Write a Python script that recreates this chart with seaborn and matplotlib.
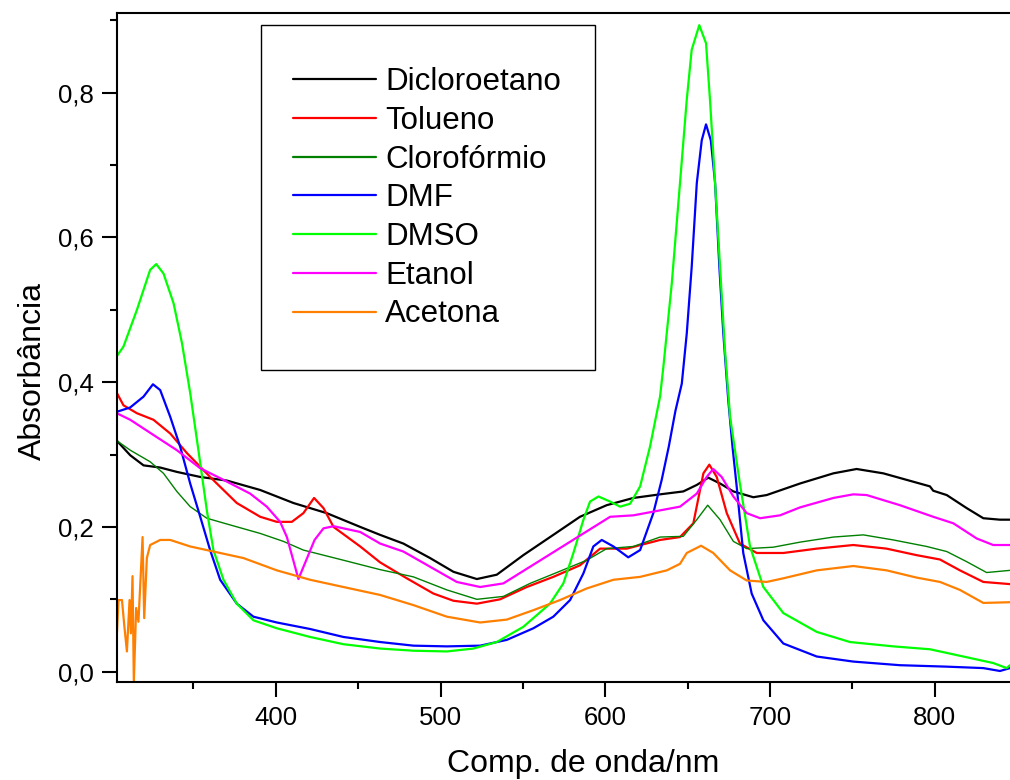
import numpy as np
import pandas as pd
import matplotlib
matplotlib.use("Agg")
import matplotlib.pyplot as plt
import seaborn as sns
from matplotlib.ticker import FixedLocator, MultipleLocator
from matplotlib.patches import Rectangle

# ---------------- data ----------------
dicloro_x = [303.5, 311.6, 319.7, 329.8, 339.9, 354.1, 370.3, 390.5, 410.7, 430.9, 451.2, 463.3, 477.4,
             493.6, 507.8, 522.0, 534.1, 550.2, 568.4, 584.6, 600.8, 617.0, 633.2, 647.3, 655.5, 662.5,
             669.6, 677.7, 689.8, 697.9, 718.2, 738.4, 752.5, 768.7, 797.0, 799.0, 807.2, 819.3, 829.4,
             839.5, 845.6]
dicloro_y = [0.319, 0.299, 0.285, 0.282, 0.276, 0.269, 0.264, 0.251, 0.233, 0.219, 0.200, 0.189, 0.177,
             0.157, 0.138, 0.128, 0.134, 0.161, 0.189, 0.214, 0.230, 0.240, 0.245, 0.249, 0.258, 0.268,
             0.260, 0.249, 0.241, 0.244, 0.260, 0.274, 0.280, 0.274, 0.256, 0.250, 0.244, 0.226, 0.212,
             0.210, 0.210]

tolueno_x = [303.5, 307.5, 315.7, 325.7, 335.9, 346.0, 360.1, 376.3, 390.5, 400.6, 409.7, 416.7, 423.2,
             428.9, 435.0, 451.2, 463.3, 479.5, 495.6, 507.8, 522.0, 536.1, 552.3, 568.4, 584.6, 596.8,
             613.0, 633.2, 645.3, 653.4, 659.5, 663.1, 667.6, 673.7, 681.7, 691.9, 708.0, 728.3, 750.5,
             770.7, 788.9, 803.1, 815.2, 829.4, 845.6]
tolueno_y = [0.385, 0.368, 0.357, 0.348, 0.329, 0.302, 0.269, 0.233, 0.214, 0.207, 0.207, 0.219, 0.240,
             0.226, 0.200, 0.173, 0.151, 0.129, 0.108, 0.098, 0.094, 0.100, 0.117, 0.131, 0.147, 0.170,
             0.170, 0.182, 0.186, 0.205, 0.274, 0.286, 0.269, 0.219, 0.177, 0.164, 0.164, 0.170, 0.175,
             0.170, 0.161, 0.155, 0.140, 0.124, 0.121]

cloro_x = [303.5, 311.6, 323.7, 331.8, 339.9, 348.0, 358.1, 370.3, 390.5, 404.6, 416.7, 441.0, 463.3,
           483.5, 503.8, 522.0, 538.1, 554.3, 570.5, 588.7, 600.8, 617.0, 633.2, 647.3, 655.5, 662.1,
           669.6, 677.7, 685.8, 701.9, 718.2, 738.4, 756.6, 774.8, 795.0, 807.2, 819.3, 831.4, 845.6]
cloro_y = [0.319, 0.306, 0.290, 0.274, 0.249, 0.228, 0.212, 0.204, 0.191, 0.180, 0.168, 0.154, 0.141,
           0.131, 0.113, 0.100, 0.104, 0.122, 0.137, 0.154, 0.170, 0.173, 0.186, 0.187, 0.210, 0.230,
           0.210, 0.180, 0.170, 0.172, 0.179, 0.186, 0.189, 0.182, 0.173, 0.166, 0.152, 0.137, 0.140]

dmf_x = [303.5, 311.6, 319.7, 325.4, 329.8, 335.9, 341.9, 348.0, 354.1, 360.1, 366.2, 376.3, 386.4,
         400.6, 420.8, 441.0, 463.3, 483.5, 503.8, 524.0, 540.2, 556.3, 568.4, 578.6, 586.7, 592.7,
         597.8, 604.9, 613.9, 621.1, 629.1, 634.2, 638.5, 642.5, 646.4, 649.4, 652.4, 655.5, 658.5,
         661.1, 664.0, 666.6, 669.2, 671.6, 674.6, 677.2, 679.7, 683.7, 688.8, 695.9, 708.0, 728.3,
         750.5, 778.8, 807.2, 829.4, 839.5, 845.6]
dmf_y = [0.359, 0.365, 0.380, 0.397, 0.389, 0.352, 0.311, 0.260, 0.214, 0.168, 0.127, 0.094, 0.076,
         0.068, 0.059, 0.048, 0.041, 0.036, 0.035, 0.036, 0.044, 0.060, 0.076, 0.099, 0.136, 0.173,
         0.182, 0.173, 0.158, 0.168, 0.219, 0.265, 0.311, 0.360, 0.398, 0.467, 0.559, 0.675, 0.734,
         0.756, 0.734, 0.675, 0.559, 0.467, 0.375, 0.310, 0.256, 0.164, 0.108, 0.071, 0.039, 0.021,
         0.014, 0.009, 0.007, 0.005, 0.001, 0.005]

dmso_x = [303.5, 307.5, 315.7, 323.7, 327.4, 331.8, 337.9, 343.0, 348.0, 353.0, 358.1, 362.1, 368.2,
          376.3, 386.4, 400.6, 420.8, 441.0, 463.3, 483.5, 503.8, 519.9, 534.1, 550.2, 566.4, 574.5,
          580.6, 586.7, 590.7, 595.8, 602.9, 608.9, 615.0, 621.1, 627.1, 633.2, 635.2, 640.3, 645.3,
          649.4, 652.4, 657.0, 661.1, 663.5, 666.6, 669.6, 672.6, 675.7, 681.5, 687.8, 695.9, 708.0,
          728.3, 748.5, 774.8, 797.0, 809.2, 823.3, 835.4, 843.6, 845.6]
dmso_y = [0.436, 0.449, 0.500, 0.555, 0.563, 0.550, 0.509, 0.454, 0.385, 0.306, 0.223, 0.168, 0.127,
          0.094, 0.071, 0.060, 0.048, 0.038, 0.032, 0.029, 0.028, 0.032, 0.041, 0.062, 0.094, 0.122,
          0.164, 0.210, 0.235, 0.242, 0.235, 0.228, 0.232, 0.256, 0.311, 0.380, 0.421, 0.536, 0.675,
          0.790, 0.859, 0.893, 0.868, 0.790, 0.675, 0.559, 0.444, 0.352, 0.262, 0.173, 0.117, 0.081,
          0.055, 0.041, 0.035, 0.031, 0.025, 0.018, 0.012, 0.005, 0.009]

etanol_x = [303.5, 311.6, 325.7, 339.9, 354.1, 368.2, 384.4, 394.5, 402.6, 406.7, 413.7, 423.5, 428.9,
            435.0, 451.2, 463.3, 477.4, 493.6, 509.8, 524.0, 538.1, 554.3, 570.5, 586.7, 602.9, 617.0,
            631.2, 645.3, 655.5, 661.5, 665.5, 670.6, 677.7, 685.8, 693.9, 706.0, 718.2, 738.4, 750.5,
            758.6, 778.8, 799.0, 811.2, 825.4, 835.4, 845.6]
etanol_y = [0.357, 0.348, 0.327, 0.306, 0.281, 0.265, 0.246, 0.228, 0.207, 0.186, 0.128, 0.182, 0.198,
            0.201, 0.193, 0.177, 0.166, 0.145, 0.124, 0.117, 0.122, 0.145, 0.168, 0.191, 0.214, 0.216,
            0.222, 0.228, 0.246, 0.269, 0.280, 0.269, 0.242, 0.219, 0.212, 0.216, 0.227, 0.240, 0.245,
            0.244, 0.230, 0.214, 0.205, 0.184, 0.175, 0.175]

acetona_x = [303.5, 304.5, 306.6, 308.0, 309.6, 311.2, 312.0, 313.0, 313.8, 315.2, 316.6, 319.1, 320.1,
             321.7, 323.7, 329.8, 335.9, 348.0, 360.1, 380.3, 400.6, 420.8, 441.0, 463.3, 483.5, 503.8,
             524.0, 540.2, 556.3, 572.5, 588.7, 604.9, 621.1, 637.3, 645.3, 649.4, 658.1, 665.5, 675.7,
             685.8, 697.9, 708.0, 728.3, 750.5, 770.7, 788.9, 803.1, 815.2, 829.4, 845.6]
acetona_y = [0.051, 0.099, 0.099, 0.064, 0.028, 0.099, 0.053, 0.132, -0.014, 0.088, 0.069, 0.186, 0.074,
             0.157, 0.175, 0.182, 0.182, 0.173, 0.167, 0.157, 0.140, 0.127, 0.117, 0.106, 0.092, 0.076,
             0.068, 0.072, 0.085, 0.099, 0.115, 0.127, 0.131, 0.140, 0.149, 0.164, 0.174, 0.164, 0.140,
             0.126, 0.124, 0.129, 0.140, 0.146, 0.140, 0.130, 0.124, 0.113, 0.095, 0.096]

series_names = ["Dicloroetano", "Tolueno", "Clorofórmio", "DMF", "DMSO", "Etanol", "Acetona"]
series_x = [dicloro_x, tolueno_x, cloro_x, dmf_x, dmso_x, etanol_x, acetona_x]
series_y = [dicloro_y, tolueno_y, cloro_y, dmf_y, dmso_y, etanol_y, acetona_y]
series_colors = ["#000000", "#FF0000", "#008000", "#0000FF", "#00FF00", "#FF00FF", "#FF8000"]
series_widths = [1.6, 1.6, 1.0, 1.6, 1.6, 1.6, 1.6]

x_ticks = [400, 500, 600, 700, 800]
y_ticks = [0.0, 0.2, 0.4, 0.6, 0.8]
y_tick_labels = ["0,0", "0,2", "0,4", "0,6", "0,8"]

# ---------------- style ----------------
sns.set_theme(style="ticks")
plt.rcParams["font.family"] = ["Liberation Sans", "DejaVu Sans"]
plt.rcParams["text.color"] = "black"
plt.rcParams["axes.labelcolor"] = "black"

W, H = 1010, 780
fig = plt.figure(figsize=(W / 100, H / 100), dpi=100)
ax_left, ax_bottom_px, ax_top_px = 116.7, 682.0, 13.3
ax_w = W - ax_left
ax_h = ax_bottom_px - ax_top_px
ax = fig.add_axes([ax_left / W, (H - ax_bottom_px) / H, ax_w / W, ax_h / H])

for name, xs, ys, col, lw in zip(series_names, series_x, series_y, series_colors, series_widths):
    df = pd.DataFrame({"x": xs, "y": ys})
    sns.lineplot(data=df, x="x", y="y", ax=ax, color=col, linewidth=lw, label=name,
                 sort=False, estimator=None)

ax.set_xlim(303.4, 845.6)
ax.set_ylim(-0.0142, 0.9094)

ax.xaxis.set_major_locator(FixedLocator(x_ticks))
ax.xaxis.set_minor_locator(MultipleLocator(50))
ax.yaxis.set_major_locator(FixedLocator(y_ticks))
ax.set_yticklabels(y_tick_labels)
ax.yaxis.set_minor_locator(MultipleLocator(0.1))

ax.tick_params(axis="both", which="major", direction="out", length=10.5, width=1.5,
               labelsize=18.5, color="black", labelcolor="black")
ax.tick_params(axis="both", which="minor", direction="out", length=5, width=1.5, color="black")
ax.tick_params(axis="x", which="major", pad=7)
ax.tick_params(axis="y", which="major", pad=6)
ax.tick_params(top=False, right=False, which="both")

for side in ["left", "bottom", "top"]:
    ax.spines[side].set_visible(True)
    ax.spines[side].set_linewidth(1.5)
    ax.spines[side].set_color("black")
ax.spines["right"].set_visible(False)

ax.set_xlabel("Comp. de onda/nm", fontsize=23, color="black")
ax.set_ylabel("Absorbância", fontsize=23, color="black")
ax.xaxis.set_label_coords((583 - ax_left) / ax_w, (ax_bottom_px - 749) / ax_h)
ax.yaxis.set_label_coords((48 - ax_left) / ax_w, (ax_bottom_px - 371) / ax_h)

# legend without its own frame; frame drawn as a separate rectangle
leg = ax.legend(loc="upper left",
                bbox_to_anchor=((293 - ax_left) / ax_w, (ax_bottom_px - 67) / ax_h),
                fontsize=22.5, frameon=False,
                borderpad=0.0, labelspacing=0.28, handlelength=2.65, handletextpad=0.3,
                borderaxespad=0.0)
for h in leg.get_lines():
    h.set_linewidth(1.6)
for t in leg.get_texts():
    t.set_color("black")

fig.patches.append(Rectangle((260.7 / W, (H - 370) / H), (595 - 260.7) / W, (370 - 25) / H,
                             transform=fig.transFigure, fill=False, edgecolor="black",
                             linewidth=1.0, zorder=5))

fig.savefig("out.png", dpi=100)
